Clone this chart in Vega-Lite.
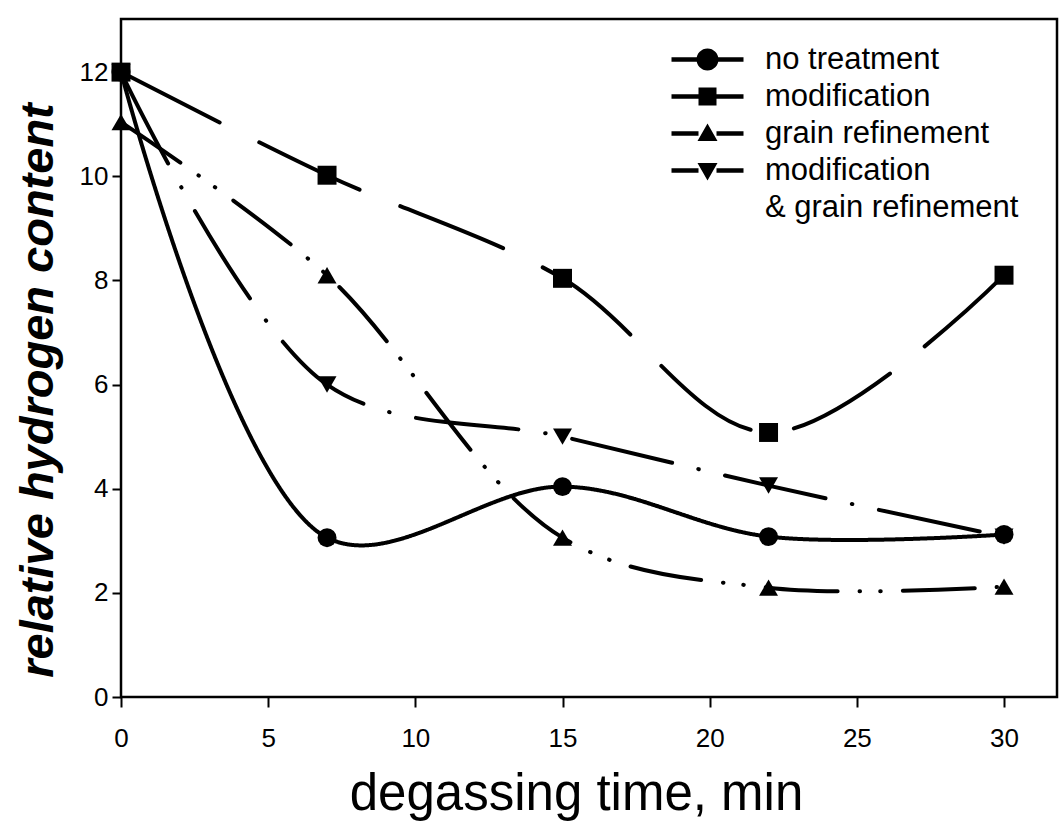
{
  "$schema": "https://vega.github.io/schema/vega-lite/v6.json",
  "autosize": "none",
  "width": 936,
  "height": 678,
  "padding": {"left": 121, "top": 19, "right": 2, "bottom": 128},
  "background": "white",
  "config": {
    "font": "Liberation Sans",
    "view": {"stroke": "black", "strokeWidth": 2.5},
    "axis": {"grid": false, "domain": false, "tickColor": "black", "tickWidth": 2, "labelColor": "black", "titleColor": "black", "labelFont": "Liberation Sans", "titleFont": "Liberation Sans", "labelFlush": false}
  },
  "data": {"values": [
    {"series": "no treatment", "t": 0, "h": 12.0},
    {"series": "no treatment", "t": 7, "h": 3.06},
    {"series": "no treatment", "t": 15, "h": 4.04},
    {"series": "no treatment", "t": 22, "h": 3.08},
    {"series": "no treatment", "t": 30, "h": 3.12},
    {"series": "modification", "t": 0, "h": 12.0},
    {"series": "modification", "t": 7, "h": 10.02},
    {"series": "modification", "t": 15, "h": 8.04},
    {"series": "modification", "t": 22, "h": 5.08},
    {"series": "modification", "t": 30, "h": 8.1},
    {"series": "grain refinement", "t": 0, "h": 11.04},
    {"series": "grain refinement", "t": 7, "h": 8.1},
    {"series": "grain refinement", "t": 15, "h": 3.06},
    {"series": "grain refinement", "t": 22, "h": 2.1},
    {"series": "grain refinement", "t": 30, "h": 2.12},
    {"series": "modification & grain refinement", "t": 0, "h": 12.0},
    {"series": "modification & grain refinement", "t": 7, "h": 6.0},
    {"series": "modification & grain refinement", "t": 15, "h": 5.0},
    {"series": "modification & grain refinement", "t": 22, "h": 4.06},
    {"series": "modification & grain refinement", "t": 30, "h": 3.08}
  ]},
  "encoding": {
    "x": {"field": "t", "type": "quantitative",
      "scale": {"domain": [0, 31.8], "nice": false, "zero": false},
      "axis": {"values": [0, 5, 10, 15, 20, 25, 30], "tickSize": 10, "labelFontSize": 26, "labelPadding": 18, "title": "degassing time, min", "titleFontSize": 51, "titleFontWeight": "normal", "titlePadding": 18, "titleX": 455}},
    "y": {"field": "h", "type": "quantitative",
      "scale": {"domain": [0, 13.02], "nice": false},
      "axis": {"values": [0, 2, 4, 6, 8, 10, 12], "tickSize": 9, "labelFontSize": 26, "labelPadding": 4, "title": "relative hydrogen content", "titleFontSize": 47, "titleFontWeight": "bold", "titleFontStyle": "italic", "titlePadding": 17, "titleY": 371}}
  },
  "layer": [
    {
      "mark": {"type": "line", "interpolate": "catmull-rom", "color": "black", "strokeWidth": 4, "strokeCap": "round", "clip": true},
      "encoding": {
        "detail": {"field": "series"},
        "strokeDash": {"field": "series", "type": "nominal", "legend": null,
          "scale": {"domain": ["no treatment", "modification", "grain refinement", "modification & grain refinement"],
                    "range": [[1, 0], [111, 44], [72, 22, 0.5, 20, 0.5, 22], [103, 27, 0.5, 27]]}}
      }
    },
    {
      "mark": {"type": "point", "filled": true, "color": "black", "opacity": 1, "size": 360},
      "encoding": {
        "shape": {"field": "series", "type": "nominal", "legend": null,
          "scale": {"domain": ["no treatment", "modification", "grain refinement", "modification & grain refinement"],
                    "range": ["circle", "square", "triangle-up", "triangle-down"]}}
      }
    },
    {
      "transform": [{"filter": "false"}],
      "mark": {"type": "point", "filled": true, "color": "black"},
      "encoding": {
        "shape": {"field": "series", "type": "nominal",
          "scale": {"domain": ["no treatment", "modification", "grain refinement", "modification & grain refinement", "& grain refinement"],
                    "range": [
                      "M-3.6,-0.22H-0.9V0.22H-3.6Z M0.9,-0.22H3.6V0.22H0.9Z M1.1,0A1.1,1.1,0,1,1,-1.1,0A1.1,1.1,0,1,1,1.1,0Z",
                      "M-3.6,-0.22H-0.85V0.22H-3.6Z M0.85,-0.22H3.6V0.22H0.85Z M-0.9,-0.9H0.9V0.9H-0.9Z",
                      "M-3.6,-0.22H-0.9V0.22H-3.6Z M0.9,-0.22H3.6V0.22H0.9Z M0,-1L1,0.75H-1Z",
                      "M-3.6,-0.22H-0.9V0.22H-3.6Z M0.9,-0.22H3.6V0.22H0.9Z M0,1L1,-0.75H-1Z",
                      "M0,0Z"
                    ]},
          "legend": {
            "title": null, "orient": "none", "legendX": 571, "legendY": 25,
            "symbolSize": 400, "symbolFillColor": "black", "symbolStrokeWidth": 0, "symbolOpacity": 1,
            "labelFontSize": 31, "labelFont": "Liberation Sans", "labelColor": "black", "labelOffset": 42, "labelLimit": 400,
            "rowPadding": 5, "padding": 0,
            "labelExpr": "datum.value == 'modification & grain refinement' ? 'modification' : datum.label"
          }
        }
      }
    }
  ],
  "resolve": {"scale": {"shape": "independent"}, "legend": {"shape": "independent"}}
}
